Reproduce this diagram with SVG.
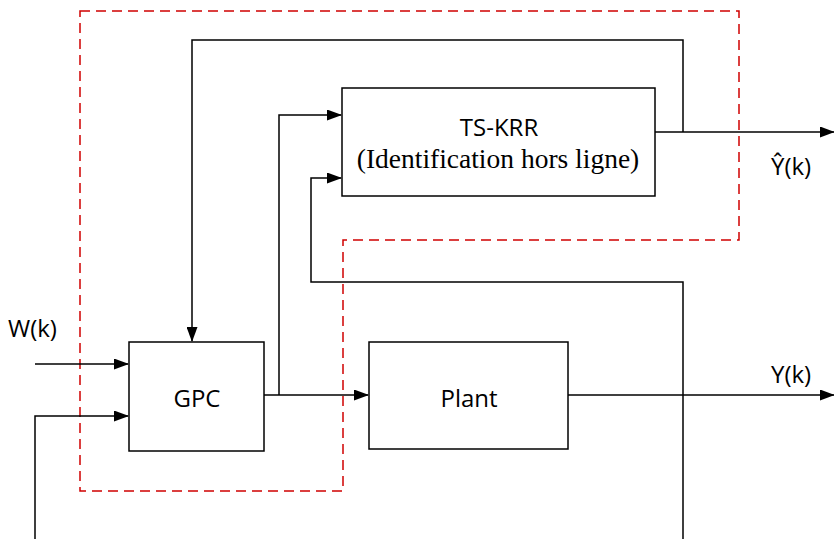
<svg xmlns="http://www.w3.org/2000/svg" width="834" height="539" viewBox="0 0 834 539">
<style>
.box{fill:#fff;stroke:#000;stroke-width:1.5}
.ln{fill:none;stroke:#000;stroke-width:1.5}
.lbl{font-family:"Open Sans","Liberation Sans",sans-serif;font-size:24px;fill:#000}
.ser{font-family:"Liberation Serif",serif;font-size:27.5px;fill:#000}
.dash{fill:none;stroke:#d00000;stroke-width:1.5;stroke-dasharray:10,6}
</style>
<defs>
<marker id="ah" markerWidth="15" markerHeight="11" refX="14" refY="5.5" orient="auto" markerUnits="userSpaceOnUse">
<path d="M0,0 L15,5.5 L0,11 Z" fill="#000"/>
</marker>
</defs>
<rect width="834" height="539" fill="#fff"/>
<g id="boundary">
<path class="dash" d="M80,11 H739 V240 H343 V491 H80 Z"/>
</g>
<g id="connectors">
<path class="ln" d="M683,132 V40 H192 V341" marker-end="url(#ah)"/>
<path class="ln" d="M655,132 H834" marker-end="url(#ah)"/>
<path class="ln" d="M35,364 H128" marker-end="url(#ah)"/>
<path class="ln" d="M35,539 V416 H128" marker-end="url(#ah)"/>
<path class="ln" d="M264,395 H368" marker-end="url(#ah)"/>
<path class="ln" d="M279,395 V115 H341" marker-end="url(#ah)"/>
<path class="ln" d="M568,395 H834" marker-end="url(#ah)"/>
<path class="ln" d="M683,539 V282 H311 V178 H341" marker-end="url(#ah)"/>
</g>
<g id="tskrr">
<rect class="box" x="342" y="88" width="313" height="108"/>
<text class="lbl" x="499" y="136" text-anchor="middle">TS-KRR</text>
<text class="ser" x="498" y="168" text-anchor="middle">(Identification hors ligne)</text>
</g>
<g id="gpc">
<rect class="box" x="129" y="342" width="135" height="109"/>
<text class="lbl" x="197" y="407" text-anchor="middle">GPC</text>
</g>
<g id="plant">
<rect class="box" x="369" y="342" width="199" height="107"/>
<text class="lbl" x="469" y="407" text-anchor="middle">Plant</text>
</g>
<g id="labels">
<text class="lbl" x="8" y="337">W(k)</text>
<text class="lbl" x="771" y="175">Ŷ(k)</text>
<text class="lbl" x="771" y="383">Y(k)</text>
</g>
</svg>
